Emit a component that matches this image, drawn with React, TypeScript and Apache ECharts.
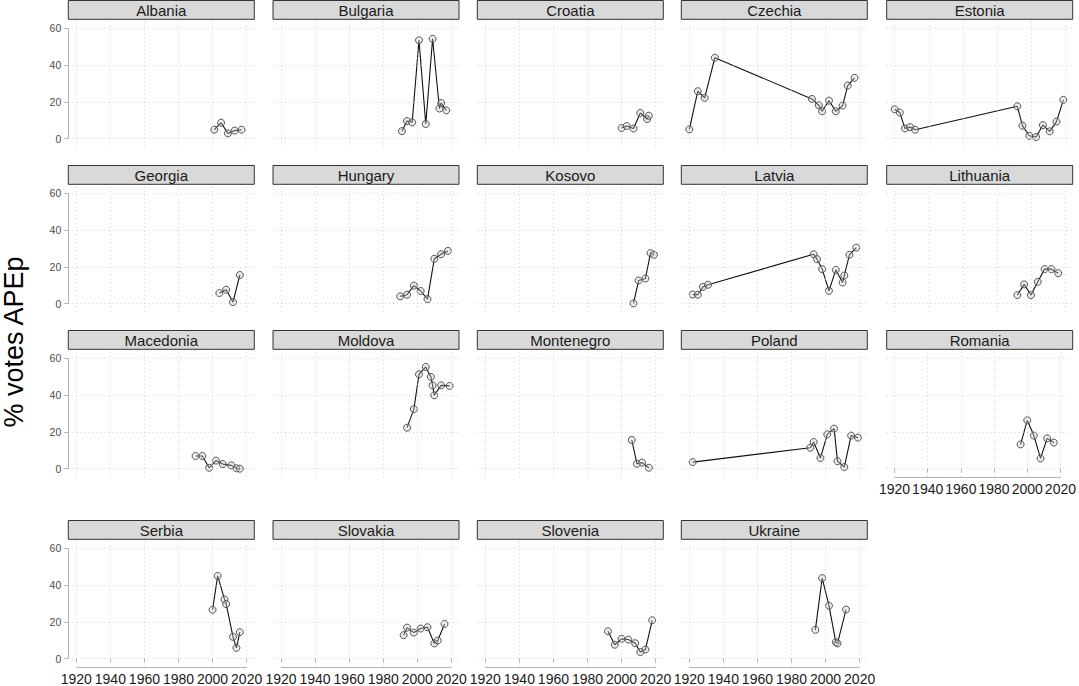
import React, { useEffect, useRef } from "react";
import * as echarts from "echarts";

const FONT = "'Liberation Sans', Arial, Helvetica, sans-serif";

// ---------- data ----------
const countries = [
  "Albania", "Bulgaria", "Croatia", "Czechia", "Estonia",
  "Georgia", "Hungary", "Kosovo", "Latvia", "Lithuania",
  "Macedonia", "Moldova", "Montenegro", "Poland", "Romania",
  "Serbia", "Slovakia", "Slovenia", "Ukraine",
];

const albaniaYears = [2001, 2005, 2009, 2013, 2017];
const albaniaVotes = [4.9, 8.7, 2.9, 4.4, 4.9];
const bulgariaYears = [1991, 1994, 1997, 2001, 2005, 2009, 2013, 2014, 2017];
const bulgariaVotes = [4.1, 9.6, 8.9, 53.5, 8.0, 54.3, 16.4, 19.4, 15.4];
const croatiaYears = [2000, 2003, 2007, 2011, 2015, 2016];
const croatiaVotes = [5.8, 6.9, 5.5, 14.0, 10.7, 12.5];
const czechiaYears = [1920, 1925, 1929, 1935, 1992, 1996, 1998, 2002, 2006, 2010, 2013, 2017];
const czechiaVotes = [5.1, 25.8, 22.2, 44.0, 21.6, 18.2, 14.9, 20.7, 14.9, 18.0, 28.9, 33.1];
const estoniaYears = [1920, 1923, 1926, 1929, 1932, 1992, 1995, 1999, 2003, 2007, 2011, 2015, 2019];
const estoniaVotes = [16.0, 14.2, 5.6, 6.3, 4.9, 17.6, 7.1, 1.6, 0.9, 7.4, 4.0, 9.3, 21.1];
const georgiaYears = [2004, 2008, 2012, 2016];
const georgiaVotes = [5.8, 7.6, 0.9, 15.6];
const hungaryYears = [1990, 1994, 1998, 2002, 2006, 2010, 2014, 2018];
const hungaryVotes = [4.0, 4.9, 9.8, 6.9, 2.5, 24.4, 26.9, 28.7];
const kosovoYears = [2007, 2010, 2014, 2017, 2019];
const kosovoVotes = [0.2, 12.6, 13.7, 27.5, 26.6];
const latviaYears = [1922, 1925, 1928, 1931, 1993, 1995, 1998, 2002, 2006, 2010, 2011, 2014, 2018];
const latviaVotes = [5.0, 4.9, 9.1, 10.3, 26.9, 24.2, 18.8, 7.0, 18.4, 11.5, 15.3, 26.6, 30.5];
const lithuaniaYears = [1992, 1996, 2000, 2004, 2008, 2012, 2016];
const lithuaniaVotes = [4.7, 10.5, 4.7, 11.9, 18.8, 18.8, 16.6];
const macedoniaYears = [1990, 1994, 1998, 2002, 2006, 2011, 2014, 2016];
const macedoniaVotes = [6.9, 6.9, 0.5, 4.4, 2.5, 1.8, 0.2, 0.0];
const moldovaYears = [1994, 1998, 2001, 2005, 2008, 2009, 2010, 2014, 2019];
const moldovaVotes = [22.3, 32.4, 51.3, 55.3, 49.9, 45.3, 39.9, 45.3, 45.0];
const montenegroYears = [2006, 2009, 2012, 2016];
const montenegroVotes = [15.6, 2.7, 3.3, 0.5];
const polandYears = [1922, 1991, 1993, 1997, 2001, 2005, 2007, 2011, 2015, 2019];
const polandVotes = [3.6, 11.4, 14.5, 5.8, 18.7, 21.8, 4.1, 0.9, 18.0, 16.9];
const romaniaYears = [1996, 2000, 2004, 2008, 2012, 2016];
const romaniaVotes = [13.2, 26.3, 18.0, 5.6, 16.5, 14.2];
const serbiaYears = [2000, 2003, 2007, 2008, 2012, 2014, 2016];
const serbiaVotes = [26.6, 45.0, 32.2, 29.7, 11.9, 5.9, 14.4];
const slovakiaYears = [1992, 1994, 1998, 2002, 2006, 2010, 2012, 2016];
const slovakiaVotes = [12.8, 16.9, 14.2, 16.4, 17.1, 8.3, 9.9, 18.9];
const sloveniaYears = [1992, 1996, 2000, 2004, 2008, 2011, 2014, 2018];
const sloveniaVotes = [14.9, 7.6, 10.8, 10.4, 8.4, 3.6, 5.0, 20.9];
const ukraineYears = [1994, 1998, 2002, 2006, 2007, 2012];
const ukraineVotes = [15.7, 43.8, 28.8, 9.0, 8.3, 26.7];

const yearsList = [
  albaniaYears, bulgariaYears, croatiaYears, czechiaYears, estoniaYears,
  georgiaYears, hungaryYears, kosovoYears, latviaYears, lithuaniaYears,
  macedoniaYears, moldovaYears, montenegroYears, polandYears, romaniaYears,
  serbiaYears, slovakiaYears, sloveniaYears, ukraineYears,
];
const votesList = [
  albaniaVotes, bulgariaVotes, croatiaVotes, czechiaVotes, estoniaVotes,
  georgiaVotes, hungaryVotes, kosovoVotes, latviaVotes, lithuaniaVotes,
  macedoniaVotes, moldovaVotes, montenegroVotes, polandVotes, romaniaVotes,
  serbiaVotes, slovakiaVotes, sloveniaVotes, ukraineVotes,
];

const xTicks = [1920, 1940, 1960, 1980, 2000, 2020];
const yTicks = [0, 20, 40, 60];
const yTitle = "% votes APEp";

// ---------- layout ----------
const X_MIN = 1915.3;
const X_MAX = 2024.5;
const Y_MIN = -4.4;
const Y_MAX = 64.9;
const COL_LEFT = [68.3, 273, 477.3, 681.3, 886.7];
const ROW_STRIP_TOP = [0, 165, 330, 520];
const STRIP_H = 19.3;
const PANEL_W = 186;
const PANEL_H = 127.5;

export default function App() {
  const ref = useRef<HTMLDivElement>(null);

  useEffect(() => {
    if (!ref.current) return;
    const chart = echarts.init(ref.current, undefined, { renderer: "svg" });

    const grids: any[] = [];
    const xAxes: any[] = [];
    const yAxes: any[] = [];
    const series: any[] = [];
    const graphics: any[] = [];

    const gridLineStyle = { color: "#c4c4c4", width: 0.8, type: [1, 3] as any };
    const axisColor = "#b3b3b3";

    countries.forEach((name, i) => {
      const row = Math.floor(i / 5);
      const col = i % 5;
      const showX = row === 3 || (row === 2 && col === 4);
      const showY = col === 0;
      const left = COL_LEFT[col];
      const top = ROW_STRIP_TOP[row] + STRIP_H;

      grids.push({ left, top, width: PANEL_W, height: PANEL_H, containLabel: false });

      xAxes.push({
        type: "value",
        gridIndex: i,
        min: X_MIN,
        max: X_MAX,
        axisLine: { show: false },
        splitLine: { show: false },
        axisTick: {
          show: showX,
          customValues: xTicks,
          length: 4,
          lineStyle: { color: axisColor, width: 1 },
        },
        axisLabel: {
          show: showX,
          customValues: xTicks,
          formatter: (v: number) => String(Math.round(v)),
          hideOverlap: false,
          showMinLabel: true,
          showMaxLabel: true,
          fontSize: 14,
          color: "#1a1a1a",
          fontFamily: FONT,
          margin: 5,
        },
      });

      yAxes.push({
        type: "value",
        gridIndex: i,
        min: Y_MIN,
        max: Y_MAX,
        axisLine: { show: false },
        splitLine: { show: false },
        axisTick: {
          show: showY,
          customValues: yTicks,
          length: 4,
          lineStyle: { color: axisColor, width: 1 },
        },
        axisLabel: {
          show: showY,
          customValues: yTicks,
          formatter: (v: number) => String(Math.round(v)),
          hideOverlap: false,
          showMinLabel: true,
          showMaxLabel: true,
          fontSize: 10.5,
          color: "#4d4d4d",
          fontFamily: FONT,
          margin: 7,
        },
      });

      const markData: any[] = [];
      xTicks.forEach((v) => markData.push({ xAxis: v, lineStyle: gridLineStyle }));
      yTicks.forEach((v) => markData.push({ yAxis: v, lineStyle: gridLineStyle }));
      if (showY) {
        markData.push([
          { coord: [X_MIN, yTicks[0]], lineStyle: { color: axisColor, width: 1, type: "solid" } },
          { coord: [X_MIN, yTicks[yTicks.length - 1]] },
        ]);
      }
      if (showX) {
        markData.push([
          { coord: [xTicks[0], Y_MIN], lineStyle: { color: axisColor, width: 1, type: "solid" } },
          { coord: [xTicks[xTicks.length - 1], Y_MIN] },
        ]);
      }

      series.push({
        type: "line",
        xAxisIndex: i,
        yAxisIndex: i,
        data: [],
        silent: true,
        clip: false,
        z: 1,
        markLine: {
          silent: true,
          symbol: ["none", "none"],
          label: { show: false },
          emphasis: { disabled: true },
          animation: false,
          data: markData,
        },
      });

      const ys = yearsList[i];
      const vs = votesList[i];
      series.push({
        type: "line",
        name,
        xAxisIndex: i,
        yAxisIndex: i,
        data: ys.map((y, k) => [y, vs[k]]),
        symbol: "circle",
        symbolSize: 7,
        showSymbol: true,
        lineStyle: { color: "#111111", width: 1.1 },
        itemStyle: {
          color: "rgba(200,200,200,0.35)",
          borderColor: "#555555",
          borderWidth: 1,
        },
        z: 3,
      });

      graphics.push({
        type: "rect",
        shape: { x: left, y: ROW_STRIP_TOP[row] + 0.5, width: PANEL_W, height: STRIP_H - 0.5 },
        style: { fill: "#d9d9d9", stroke: "#333333", lineWidth: 1 },
        silent: true,
      });
      graphics.push({
        type: "text",
        x: left + PANEL_W / 2,
        y: ROW_STRIP_TOP[row] + STRIP_H / 2 + 0.5,
        style: {
          text: name,
          fontSize: 15,
          fontFamily: FONT,
          fill: "#1a1a1a",
          textAlign: "center",
          textVerticalAlign: "middle",
        },
        silent: true,
      });
    });

    graphics.push({
      type: "text",
      x: 14,
      y: 342,
      rotation: Math.PI / 2,
      style: {
        text: yTitle,
        fontSize: 27,
        fontFamily: FONT,
        fill: "#000000",
        textAlign: "center",
        textVerticalAlign: "middle",
      },
      silent: true,
    });

    chart.setOption({
      animation: false,
      backgroundColor: "#ffffff",
      textStyle: { fontFamily: FONT },
      grid: grids,
      xAxis: xAxes,
      yAxis: yAxes,
      series,
      graphic: graphics,
    });

    return () => chart.dispose();
  }, []);

  return (
    <div
      ref={ref}
      style={{ position: "absolute", left: 0, top: 0, width: 1079, height: 686 }}
    />
  );
}
